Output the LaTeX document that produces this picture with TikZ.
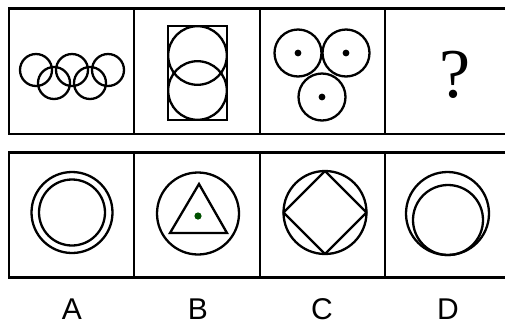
\documentclass[tikz,border=0pt]{standalone}
\usepackage{fontspec}
\newfontfamily\labelfont{Liberation Sans}
\newfontfamily\qfont{Liberation Serif}
\begin{document}
\begin{tikzpicture}[x=1pt,y=-1pt,
  frame/.style={line width=2.6pt},
  fig/.style={line width=2.3pt},
  lab/.style={font=\labelfont\fontsize{30}{30}\selectfont, inner sep=0pt, anchor=base}]
\useasboundingbox (0,0) rectangle (505,325);
% frames
\draw[frame] (525,8.5) -- (9,8.5) -- (9,134) -- (525,134);
\draw[frame] (134,8.5) -- (134,134);
\draw[frame] (260,8.5) -- (260,134);
\draw[frame] (385,8.5) -- (385,134);
\draw[frame] (525,152.5) -- (9,152.5) -- (9,277.5) -- (525,277.5);
\draw[frame] (134,152.5) -- (134,277.5);
\draw[frame] (260,152.5) -- (260,277.5);
\draw[frame] (385,152.5) -- (385,277.5);
% cell 1: rings
\foreach \cx in {36,72,108} \draw[fig] (\cx,70) circle (16);
\foreach \cx in {54,90} \draw[fig] (\cx,83) circle (16);
% cell 2
\draw[fig] (168,26) rectangle (227,120);
\draw[fig] (197.5,55.5) circle (29.3);
\draw[fig] (197.5,90.5) circle (29.3);
% cell 3
\foreach \cx/\cy in {298/53,346/53,322/97}{
  \draw[fig] (\cx,\cy) circle (23.5);
  \fill (\cx,\cy) circle (3.4);
}
% cell 4
\node[font=\qfont\fontsize{70}{70}\selectfont, inner sep=0pt, anchor=base] (q) at (455,97) {?};
% A
\draw[fig] (72,212.5) circle (40.5);
\draw[fig] (72,212.5) circle (33);
% B
\draw[fig] (198,213.5) circle (41);
\draw[fig, line join=miter] (199,184) -- (170,233) -- (227,233) -- cycle;
\fill[black!55!green!70!black] (198,216) circle (3.6);
% C
\draw[fig] (325,212.5) circle (41.5);
\draw[fig, line join=round] (325,171) -- (366.5,212.5) -- (325,254) -- (283.5,212.5) -- cycle;
% D
\draw[fig] (447.5,213.5) circle (41.5);
\draw[fig] (448,220) circle (35);
% labels
\node[lab] (la) at (72,319) {A};
\node[lab] (lb) at (198,319) {B};
\node[lab] (lc) at (322,319) {C};
\node[lab] (ld) at (448,319) {D};
\end{tikzpicture}
\end{document}
